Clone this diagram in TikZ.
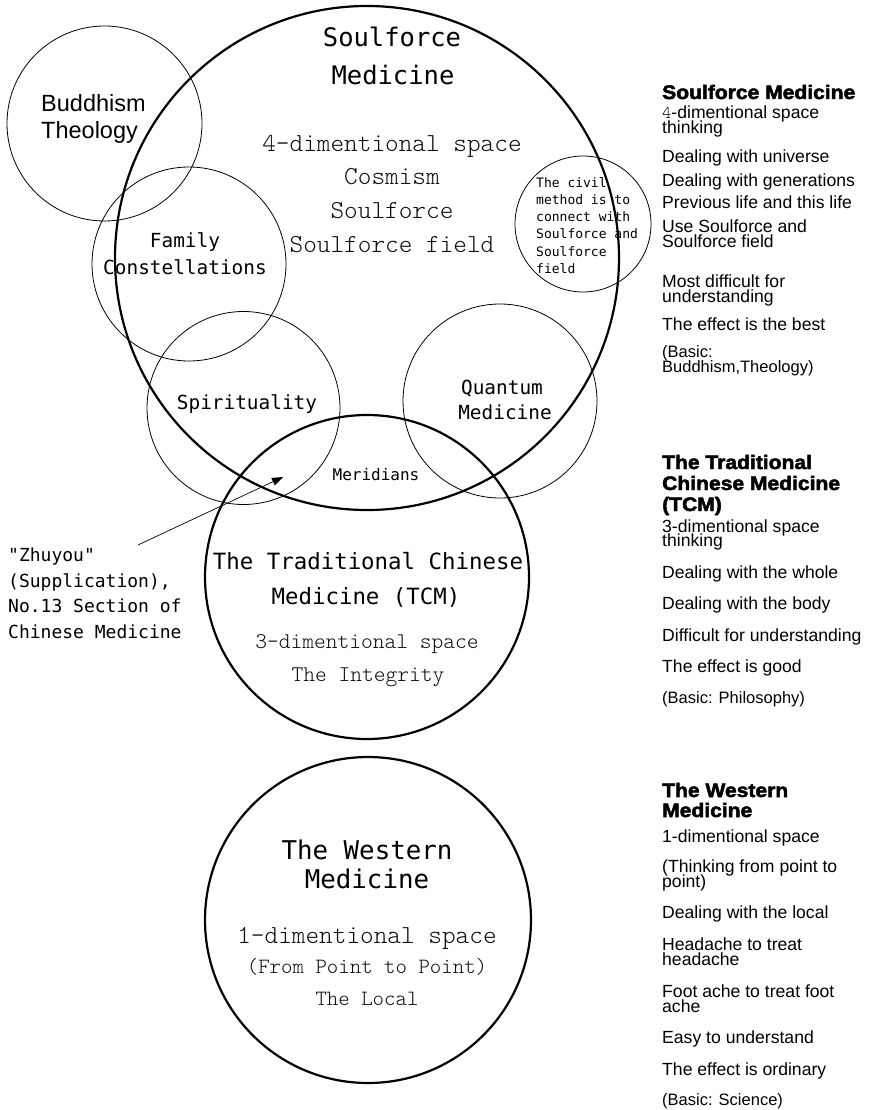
\documentclass[tikz,border=0pt]{standalone}
\usepackage{fontspec}
\setmainfont{Liberation Sans}
\newfontfamily\gothic{DejaVu Sans Mono}
\newfontfamily\serifmono{lmmonolt10-regular.otf}
\newfontfamily\heavyfont[FakeBold=2.5,FakeStretch=1.08]{Liberation Sans}
\usetikzlibrary{arrows.meta}
\definecolor{softgray}{gray}{0.05}
\tikzset{
  thickc/.style={draw, circle, line width=2.2pt, minimum size=#1, inner sep=0pt},
  thinc/.style={draw, circle, line width=0.8pt, minimum size=#1, inner sep=0pt},
  glab/.style={anchor=base, inner sep=0pt, font=\gothic\fontsize{#1}{#1}\selectfont},
  glabl/.style={anchor=base west, inner sep=0pt, font=\gothic\fontsize{#1}{#1}\selectfont},
  slab/.style={anchor=base, inner sep=0pt, text=softgray, font=\serifmono\fontsize{#1}{#1}\selectfont},
  slabl/.style={anchor=base west, inner sep=0pt, font=\fontsize{#1}{#1}\selectfont},
  head/.style={anchor=base west, inner sep=0pt, font=\heavyfont\bfseries\fontsize{19.5}{20}\selectfont},
  body/.style={anchor=base west, inner sep=0pt, font=\fontsize{17.6}{18}\selectfont},
  basic/.style={anchor=base west, inner sep=0pt, font=\fontsize{16.5}{17}\selectfont},
  zarrow/.style={-{Triangle[length=11pt,width=8pt]}, line width=0.7pt}
}
\begin{document}
\begin{tikzpicture}[x=1pt, y=-1pt]
\useasboundingbox (0,0) rectangle (870,1110);
% circles
\node[thickc=504pt] (soul) at (367,258) {};
\node[thickc=324pt] (tcm) at (367,577) {};
\node[thickc=326pt] (west) at (368,920) {};
\node[thinc=195pt] (buddh) at (104.5,123.5) {};
\node[thinc=194pt] (family) at (189,264) {};
\node[thinc=193pt] (spirit) at (243.5,408) {};
\node[thinc=194pt] (quant) at (500,401) {};
\node[thinc=136pt] (civil) at (583,224) {};
% Soulforce labels
\node[glab=25.5] (s1) at (392,47) {Soulforce};
\node[glab=25.5] (s2) at (393,85) {Medicine};
\node[slab=26] (s3) at (392,151.5) {4-dimentional space};
\node[slab=26] (s4) at (392,185) {Cosmism};
\node[slab=26] (s5) at (392,218.5) {Soulforce};
\node[slab=26] (s6) at (392,252) {Soulforce field};
% small circle labels
\node[slabl=23.5] (b1) at (41,112) {Buddhism};
\node[slabl=23.5] (b2) at (41,139) {Theology};
\node[glab=19.4] (f1) at (185,247) {Family};
\node[glab=19.4] (f2) at (185,274) {Constellations};
\node[glab=19.4] (sp) at (247,409) {Spirituality};
\node[glab=19.4] (q1) at (502,394) {Quantum};
\node[glab=19.4] (q2) at (505,419) {Medicine};
\node[glab=16] (mer) at (376,480) {Meridians};
\node[glabl=13] (c1) at (536,187) {The civil};
\node[glabl=13] (c2) at (536,204.3) {method is to};
\node[glabl=13] (c3) at (536,221.6) {connect with};
\node[glabl=13] (c4) at (536,238.9) {Soulforce and};
\node[glabl=13] (c5) at (536,256.2) {Soulforce};
\node[glabl=13] (c6) at (536,273.5) {field};
% TCM labels
\node[glab=22.4] (t1) at (368,569) {The Traditional Chinese};
\node[glab=22.4] (t2) at (366,604) {Medicine (TCM)};
\node[slab=22.4] (t3) at (367,648) {3-dimentional space};
\node[slab=22.4] (t4) at (368,681) {The Integrity};
% Western labels
\node[glab=25.8] (w1) at (367,859) {The Western};
\node[glab=25.8] (w2) at (367,888) {Medicine};
\node[slab=26] (w3) at (367,943) {1-dimentional space};
\node[slab=21.8] (w4) at (367,973) {(From Point to Point)};
\node[slab=21.8] (w5) at (367,1005) {The Local};
% Zhuyou note and arrow
\node[glabl=18] (z1) at (8,561.5) {"Zhuyou"};
\node[glabl=18] (z2) at (8,587) {(Supplication),};
\node[glabl=18] (z3) at (8,612.5) {No.13 Section of};
\node[glabl=18] (z4) at (8,638) {Chinese Medicine};
\coordinate (a0) at (138,545);
\coordinate (a1) at (283,477);
\draw[zarrow] (a0) -- (a1);
% right column: Soulforce
\node[head] (h1) at (662,99) {Soulforce Medicine};
\node[body] (r1) at (662,119) {{\serifmono 4}-dimentional space};
\node[body] (r2) at (662,134) {thinking};
\node[body] (r3) at (662,163) {Dealing with universe};
\node[body] (r4) at (662,186) {Dealing with generations};
\node[body] (r5) at (662,208) {Previous life and this life};
\node[body] (r6) at (662,232) {Use Soulforce and};
\node[body] (r7) at (662,247) {Soulforce field};
\node[body] (r8) at (662,287) {Most difficult for};
\node[body] (r9) at (662,302) {understanding};
\node[body] (r10) at (662,330) {The effect is the best};
\node[basic] (r11) at (662,357) {(Basic:};
\node[basic] (r12) at (662,372) {Buddhism,Theology)};
% right column: TCM
\node[head] (h2) at (662,469) {The Traditional};
\node[head] (h3) at (662,490) {Chinese Medicine};
\node[head] (h4) at (662,511) {(TCM)};
\node[body] (m1) at (662,532) {3-dimentional space};
\node[body] (m2) at (662,546) {thinking};
\node[body] (m3) at (662,578) {Dealing with the whole};
\node[body] (m4) at (662,609) {Dealing with the body};
\node[body] (m5) at (662,641) {Difficult for understanding};
\node[body] (m6) at (662,672) {The effect is good};
\node[basic] (m7) at (662,703) {(Basic: Philosophy)};
% right column: Western
\node[head] (h5) at (662,797) {The Western};
\node[head] (h6) at (662,817) {Medicine};
\node[body] (n1) at (662,842) {1-dimentional space};
\node[body] (n2) at (662,872) {(Thinking from point to};
\node[body] (n3) at (662,887) {point)};
\node[body] (n4) at (662,918) {Dealing with the local};
\node[body] (n5) at (662,950) {Headache to treat};
\node[body] (n6) at (662,965) {headache};
\node[body] (n7) at (662,997) {Foot ache to treat foot};
\node[body] (n8) at (662,1012) {ache};
\node[body] (n9) at (662,1043) {Easy to understand};
\node[body] (n10) at (662,1075) {The effect is ordinary};
\node[basic] (n11) at (662,1105) {(Basic: Science)};
\end{tikzpicture}
\end{document}
